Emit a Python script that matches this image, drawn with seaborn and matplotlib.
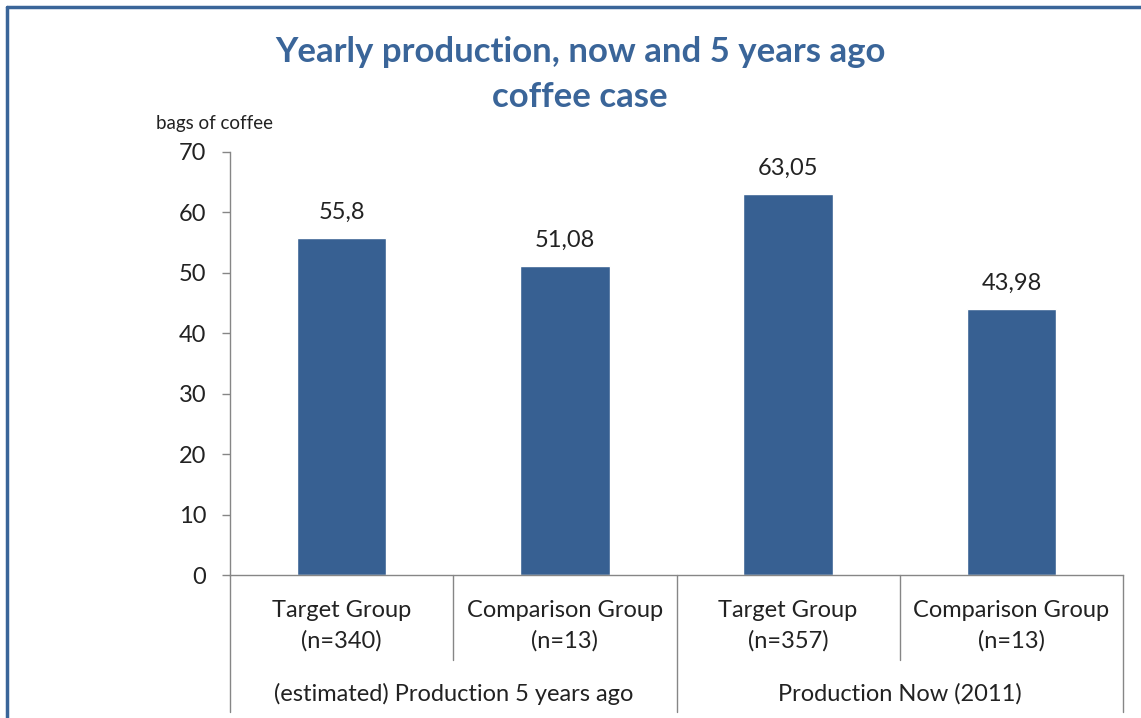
import numpy as np
import pandas as pd
import matplotlib
matplotlib.use("Agg")
import matplotlib.pyplot as plt
import matplotlib.transforms as mtrans
import seaborn as sns

periods = ["(estimated) Production 5 years ago", "Production Now (2011)"]
groups = ["Target Group\n(n=340)", "Comparison Group\n(n=13)",
          "Target Group\n(n=357)", "Comparison Group\n(n=13)"]
period_of_bar = [0, 0, 1, 1]
values = [55.8, 51.08, 63.05, 43.98]
value_labels = ["55,8", "51,08", "63,05", "43,98"]

sns.set_theme(style="white")
plt.rcParams["font.family"] = ["Lato", "DejaVu Sans"]

df = pd.DataFrame({"slot": [str(i) for i in range(len(values))],
                   "value": values})

W, H = 1141, 718
fig = plt.figure(figsize=(W / 100, H / 100), dpi=100)
ax = fig.add_axes([230 / W, (H - 575) / H, (1123 - 230) / W, (575 - 152) / H])

bar_color = "#376092"
sns.barplot(data=df, x="slot", y="value", color=bar_color, width=0.4,
            saturation=1, ax=ax)

ax.set_ylim(0, 70)
ax.set_xlim(-0.5, 3.5)
ax.set_yticks(np.arange(0, 71, 10))
ax.set_xlabel("")
ax.set_ylabel("")
ax.set_xticks([])
gray = "#868686"
fs = 17
txt = "#222222"
for s in ["top", "right"]:
    ax.spines[s].set_visible(False)
for s in ["left", "bottom"]:
    ax.spines[s].set_color(gray)
    ax.spines[s].set_linewidth(1.0)
ax.tick_params(axis="y", length=6, color=gray, width=1.0, pad=11,
               labelsize=fs, labelcolor=txt, left=True)

# data labels
for i, (v, lab) in enumerate(zip(values, value_labels)):
    ax.annotate(lab, (i, v), xytext=(0, 11), textcoords="offset points",
                ha="center", va="bottom", fontsize=fs, color=txt)

# multi-level category axis
tr = mtrans.blended_transform_factory(ax.transData, ax.transAxes)
ph = 423
for i, g in enumerate(groups):
    ax.text(i, -(626 - 575) / ph, g, transform=tr, ha="center", va="center",
            fontsize=fs, color=txt, linespacing=1.5)
for b in [0.5, 2.5]:
    ax.plot([b, b], [0, -(660 - 575) / ph], transform=tr, color=gray,
            lw=1.0, clip_on=False)
for b in [-0.5, 1.5, 3.5]:
    ax.plot([b, b], [0, -(712 - 575) / ph], transform=tr, color=gray,
            lw=1.0, clip_on=False)
for p, name in enumerate(periods):
    xs = [i for i, q in enumerate(period_of_bar) if q == p]
    ax.text(np.mean(xs), -(694 - 575) / ph, name, transform=tr,
            ha="center", va="center", fontsize=fs, color=txt)

# unit label and title
fig.text(215 / W, 1 - 124 / H, "bags of coffee", ha="center", va="center",
         fontsize=13.5, color=txt)
title_color = "#3A6599"
fig.text(580 / W, 1 - 52 / H, "Yearly production, now and 5 years ago",
         ha="center", va="center", fontsize=25, fontweight="bold",
         color=title_color)
fig.text(580 / W, 1 - 97 / H, "coffee case", ha="center", va="center",
         fontsize=25, fontweight="bold", color=title_color)

# frame at top and left
frame = "#3A6599"
fig.add_artist(plt.Line2D([7 / W, 1], [1 - 7 / H, 1 - 7 / H], color=frame,
                          lw=2.5, transform=fig.transFigure))
fig.add_artist(plt.Line2D([7 / W, 7 / W], [0, 1 - 7 / H], color=frame,
                          lw=2.5, transform=fig.transFigure))

fig.savefig("out.png", dpi=100)
